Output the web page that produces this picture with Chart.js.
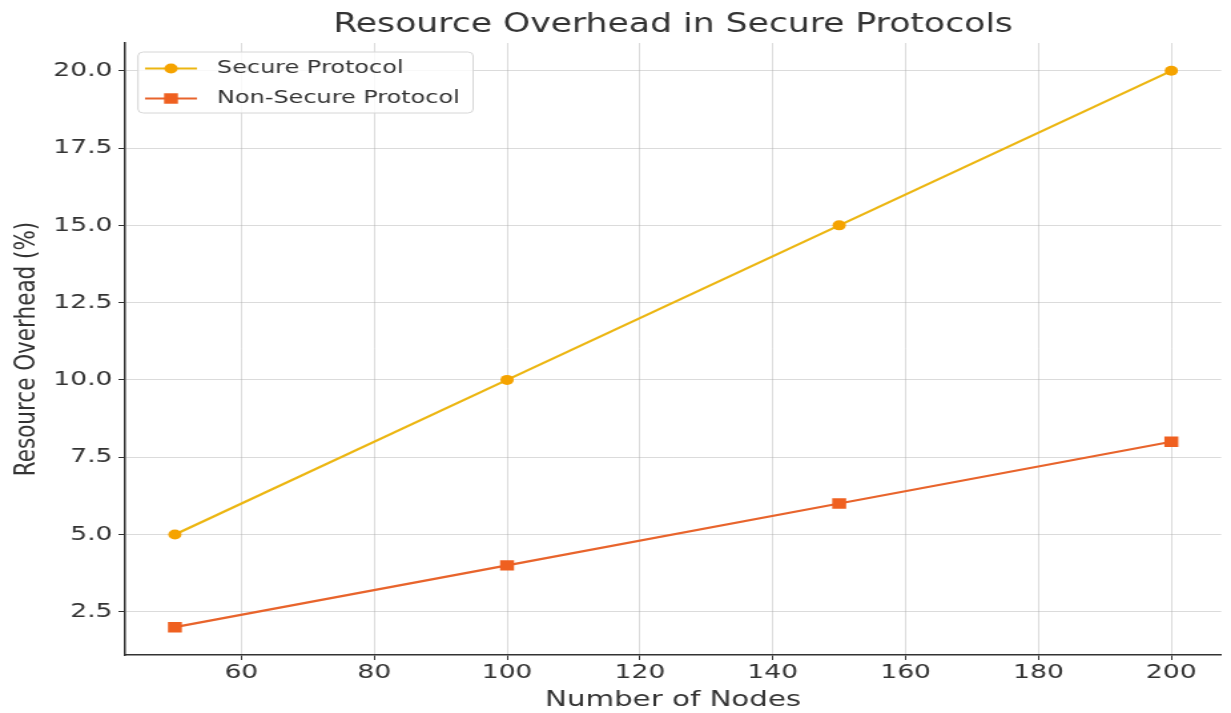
<!DOCTYPE html>
<html lang="en">

<head>
    <meta charset="UTF-8">
    <title>Resource Overhead in Secure Protocols</title>
    <style>
        html, body { margin: 0; padding: 0; background: #fff; overflow: hidden; }
        /* the reference is a horizontally stretched picture, so draw narrow and stretch */
        #wrap { width: 925px; height: 713px; transform: scaleX(1.3308); transform-origin: 0 0; }
    </style>
</head>

<body>
    <div id="wrap"><canvas id="overhead-chart"></canvas></div>
</body>

<script src="https://cdn.jsdelivr.net/npm/chart.js@4.4.0/dist/chart.umd.min.js"></script>

<script type="text/javascript" charset="utf-8">
    var nodes = [50, 100, 150, 200];
    var secureOverhead = [5, 10, 15, 20];
    var nonSecureOverhead = [2, 4, 6, 8];
    var xTicks = [60, 80, 100, 120, 140, 160, 180, 200];
    var yTicks = [2.5, 5.0, 7.5, 10.0, 12.5, 15.0, 17.5, 20.0];
    var chartTitle = 'Resource Overhead in Secure Protocols';

    var FONT = '"DejaVu Sans", "Noto Sans", sans-serif';
    var TEXT = '#333333';

    function points(ys) {
        return nodes.map(function (x, i) { return { x: x, y: ys[i] }; });
    }

    // Title centred over the plot area (matplotlib style), not the whole canvas
    var axesTitle = {
        id: 'axesTitle',
        afterDraw: function (chart) {
            var ctx = chart.ctx;
            var area = chart.chartArea;
            ctx.save();
            ctx.font = '26px ' + FONT;
            ctx.fillStyle = TEXT;
            ctx.textAlign = 'center';
            ctx.textBaseline = 'alphabetic';
            ctx.fillText(chartTitle, (area.left + area.right) / 2, area.top - 11);
            ctx.restore();
        }
    };

    // Legend drawn inside the plot, upper left
    var insideLegend = {
        id: 'insideLegend',
        afterDatasetsDraw: function (chart) {
            var ctx = chart.ctx;
            var area = chart.chartArea;
            var sets = chart.data.datasets;
            ctx.save();
            ctx.font = '18px ' + FONT;
            var textW = 0;
            sets.forEach(function (d) { textW = Math.max(textW, ctx.measureText(d.label).width); });
            var bx = area.left + 9.7, by = area.top + 9;
            var bw = 59.3 + textW + 10, bh = 61;
            ctx.beginPath();
            ctx.roundRect(bx, by, bw, bh, 4);
            ctx.fillStyle = 'rgba(255,255,255,0.8)';
            ctx.fill();
            ctx.strokeStyle = '#d6d6d6';
            ctx.lineWidth = 1;
            ctx.stroke();
            sets.forEach(function (d, i) {
                var y = by + 16.5 + i * 30;
                ctx.beginPath();
                ctx.moveTo(bx + 5.3, y);
                ctx.lineTo(bx + 44.3, y);
                ctx.strokeStyle = d.borderColor;
                ctx.lineWidth = d.borderWidth;
                ctx.stroke();
                var mx = bx + 24.8;
                ctx.fillStyle = d.pointBackgroundColor;
                ctx.beginPath();
                if (d.pointStyle === 'rect') {
                    var s = Math.SQRT1_2 * d.pointRadius;
                    ctx.rect(mx - s, y - s, 2 * s, 2 * s);
                } else {
                    ctx.arc(mx, y, d.pointRadius, 0, 2 * Math.PI);
                }
                ctx.fill();
                ctx.fillStyle = TEXT;
                ctx.textBaseline = 'middle';
                ctx.textAlign = 'left';
                ctx.fillText(d.label, bx + 59.3, y);
            });
            ctx.restore();
        }
    };

    var grid = {
        color: 'rgba(175,175,175,0.45)',
        borderDash: [3, 2],
        lineWidth: 1,
        tickColor: TEXT,
        tickLength: 5,
        tickBorderDash: []
    };

    var chart = new Chart(document.getElementById('overhead-chart'), {
        type: 'line',
        data: {
            datasets: [{
                label: 'Secure Protocol',
                data: points(secureOverhead),
                borderColor: '#ecb612',
                backgroundColor: '#f5a300',
                pointBackgroundColor: '#f5a300',
                pointBorderWidth: 0,
                pointStyle: 'circle',
                pointRadius: 5,
                borderWidth: 2.2
            }, {
                label: 'Non-Secure Protocol',
                data: points(nonSecureOverhead),
                borderColor: '#e8642c',
                backgroundColor: '#ef6020',
                pointBackgroundColor: '#ef6020',
                pointBorderWidth: 0,
                pointStyle: 'rect',
                pointRadius: 7.4,
                borderWidth: 2.2
            }]
        },
        options: {
            responsive: true,
            maintainAspectRatio: false,
            animation: false,
            layout: { padding: { left: 0, right: 4.5, top: 43, bottom: 0 } },
            plugins: {
                legend: { display: false },
                tooltip: { enabled: false },
                title: { display: false }
            },
            scales: {
                x: {
                    type: 'linear',
                    min: 42.5,
                    max: 207.5,
                    grid: grid,
                    border: { display: true, color: TEXT, width: 1.5 },
                    afterBuildTicks: function (scale) {
                        scale.ticks = xTicks.map(function (v) { return { value: v }; });
                    },
                    afterFit: function (scale) { scale.height = 58; },
                    ticks: {
                        color: TEXT,
                        padding: 1,
                        maxRotation: 0,
                        font: { family: FONT, size: 20 },
                        callback: function (v) { return String(v); }
                    },
                    title: {
                        display: true,
                        text: 'Number of Nodes',
                        color: TEXT,
                        font: { family: FONT, size: 22 },
                        padding: { top: 0, bottom: 0 }
                    }
                },
                y: {
                    type: 'linear',
                    min: 1.1,
                    max: 20.9,
                    grid: grid,
                    border: { display: true, color: TEXT, width: 1.5 },
                    afterBuildTicks: function (scale) {
                        scale.ticks = yTicks.map(function (v) { return { value: v }; });
                    },
                    afterFit: function (scale) { scale.width = 94; },
                    ticks: {
                        color: TEXT,
                        padding: 4.5,
                        font: { family: FONT, size: 20 },
                        callback: function (v) { return Number(v).toFixed(1); }
                    },
                    title: {
                        display: true,
                        text: 'Resource Overhead (%)',
                        color: TEXT,
                        font: { family: FONT, size: 21.5 },
                        padding: { top: 8, bottom: 0 }
                    }
                }
            }
        },
        plugins: [axesTitle, insideLegend]
    });
</script>

</html>
